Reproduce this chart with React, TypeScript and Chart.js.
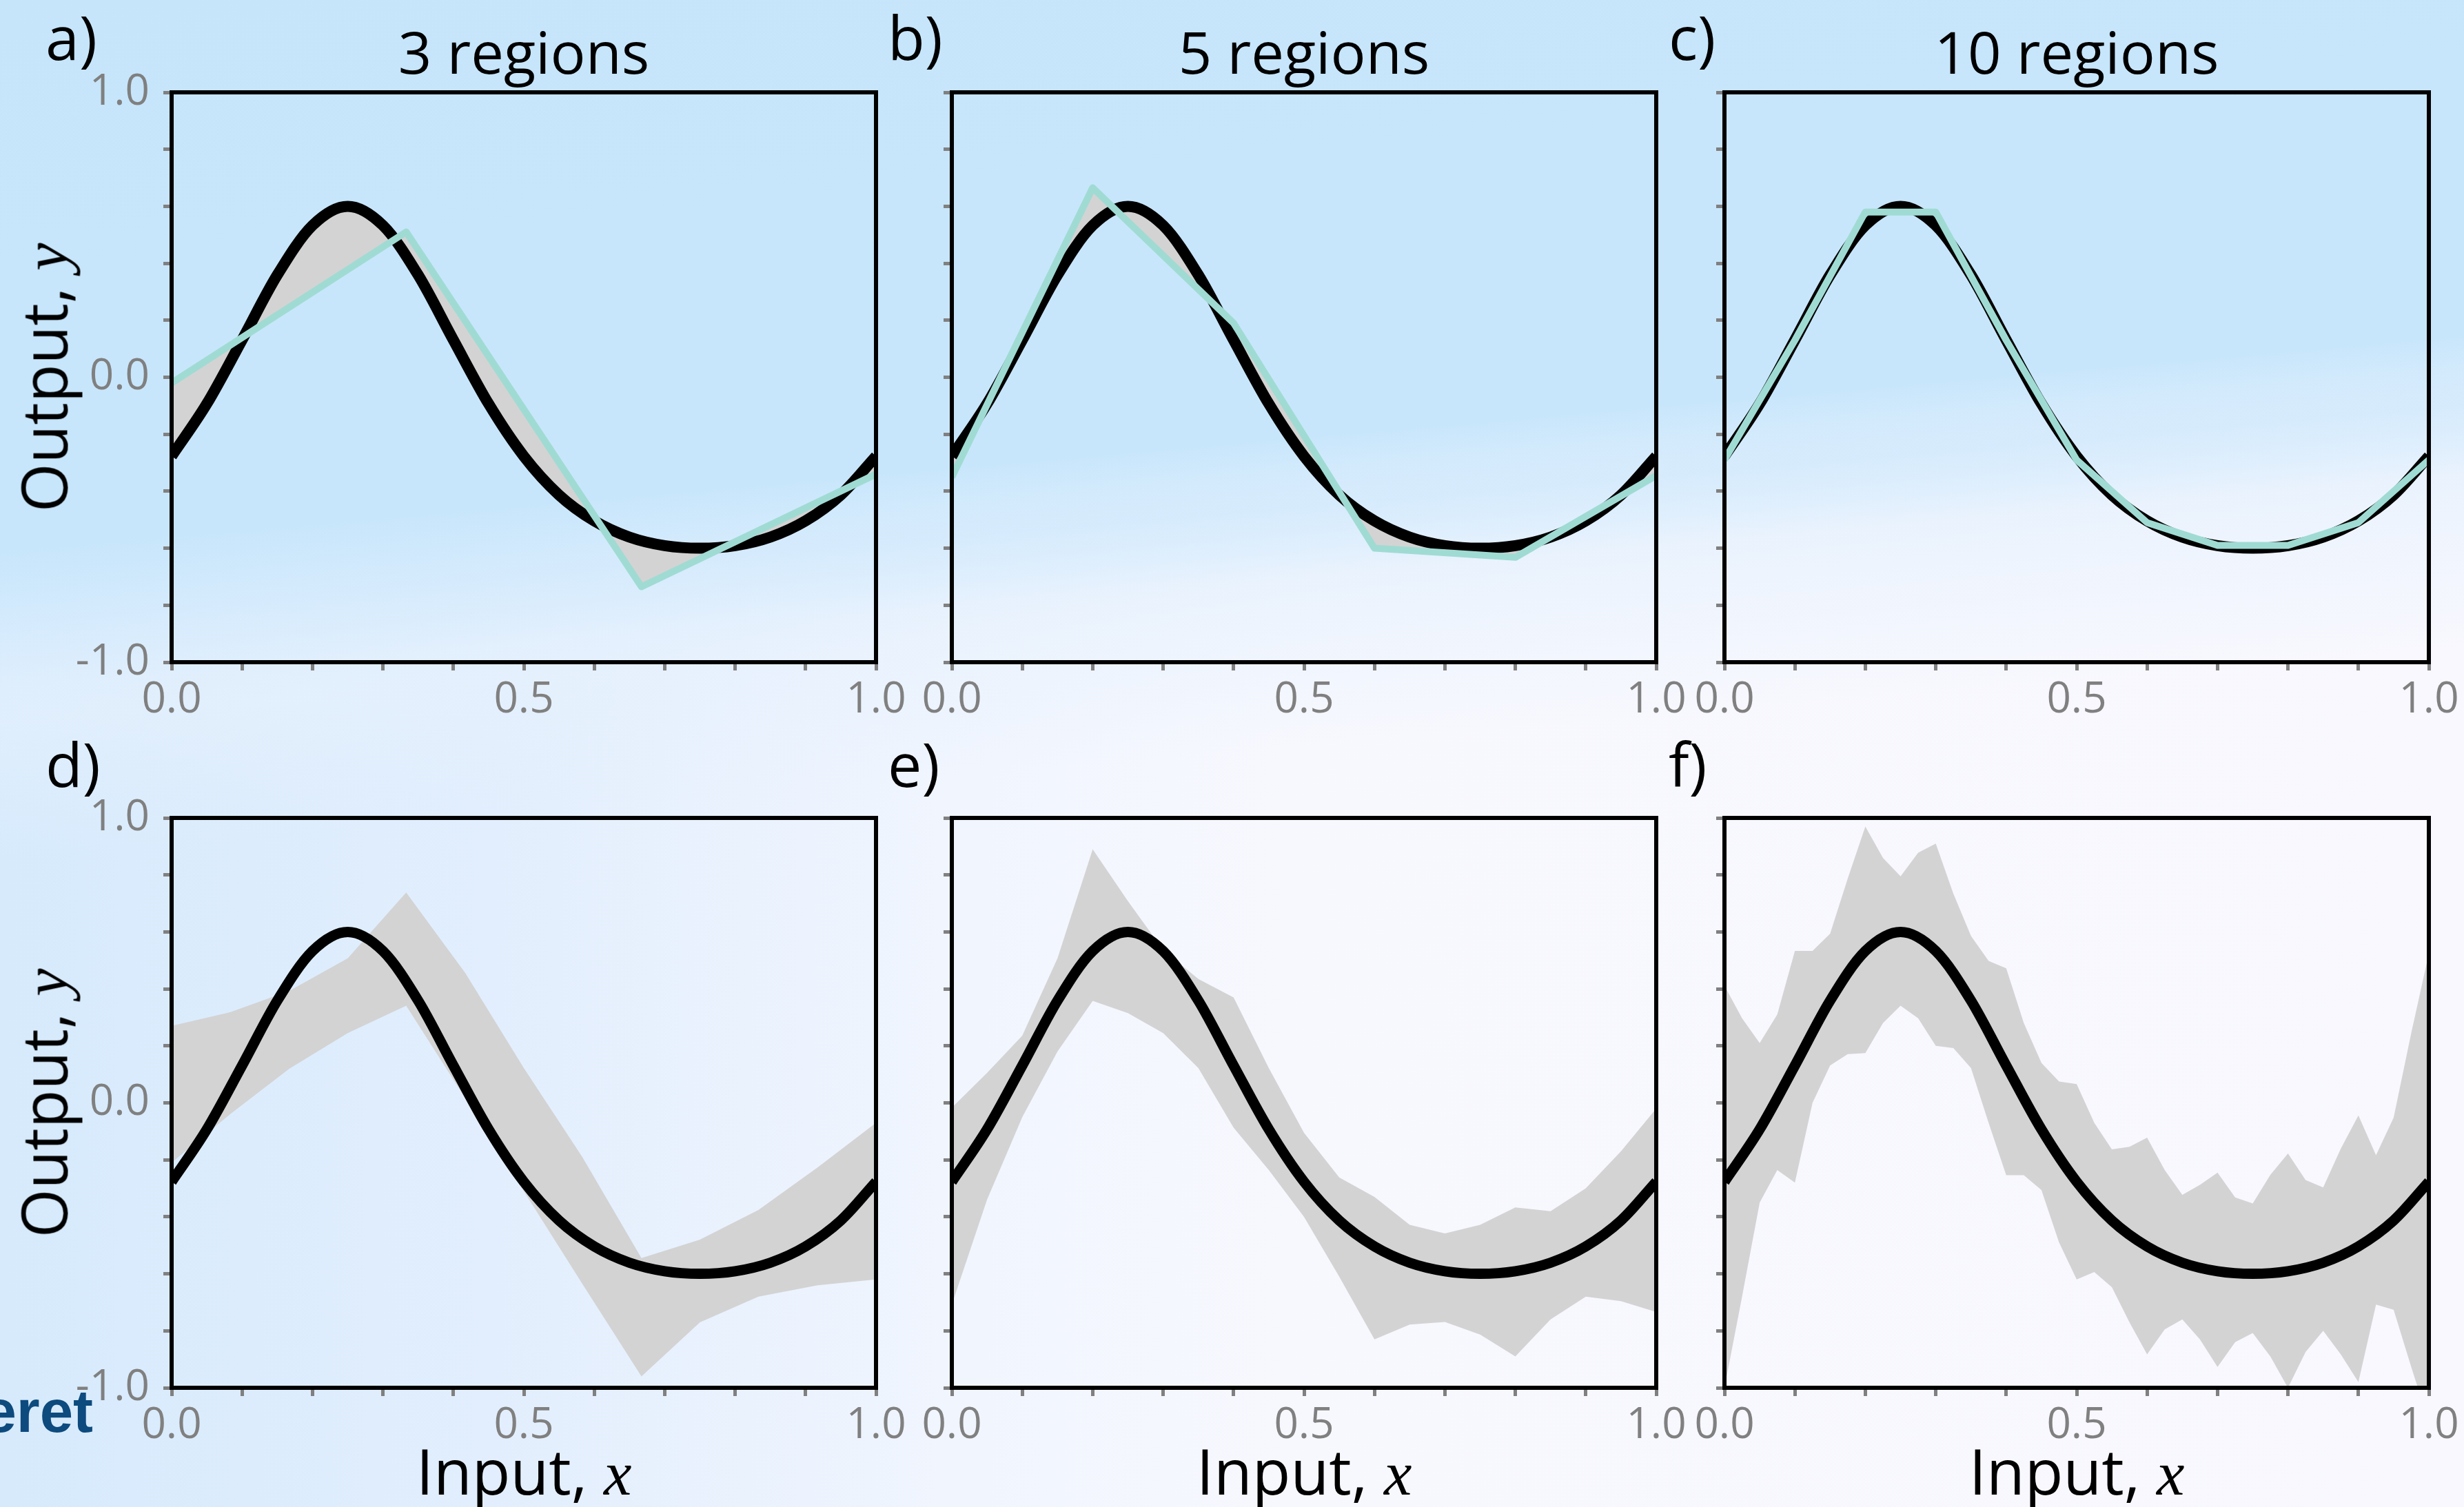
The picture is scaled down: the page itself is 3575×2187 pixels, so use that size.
import React, { useEffect, useRef } from 'react';
import { Chart, registerables } from 'chart.js';

Chart.register(...registerables);

// ---- data -------------------------------------------------------------
// true function sampled along the input axis
const trueX = [0, 0.05, 0.1, 0.15, 0.2, 0.25, 0.3, 0.35, 0.4, 0.45, 0.5, 0.55, 0.6, 0.65, 0.7, 0.75, 0.8, 0.85, 0.9, 0.95, 1.0];
const trueY = [-0.277, -0.093, 0.131, 0.359, 0.533, 0.6, 0.533, 0.359, 0.131, -0.093, -0.277, -0.413, -0.504, -0.561, -0.591, -0.6, -0.591, -0.561, -0.504, -0.413, -0.277];

// piecewise-linear fits (joints)
const fit3X = [0, 0.333, 0.667, 1.0];
const fit3Y = [-0.02, 0.51, -0.735, -0.34];

const fit5X = [0, 0.2, 0.4, 0.6, 0.8, 1.0];
const fit5Y = [-0.35, 0.665, 0.19, -0.6, -0.632, -0.345];

const fit10X = [0, 0.1, 0.2, 0.3, 0.4, 0.5, 0.6, 0.7, 0.8, 0.9, 1.0];
const fit10Y = [-0.29, 0.13, 0.58, 0.58, 0.13, -0.29, -0.51, -0.59, -0.59, -0.51, -0.29];

// spread of fitted models, 3 regions
const band3X = [0, 0.083, 0.167, 0.25, 0.333, 0.417, 0.5, 0.583, 0.667, 0.75, 0.833, 0.917, 1.0];
const band3Upper = [0.27, 0.318, 0.393, 0.507, 0.738, 0.455, 0.122, -0.19, -0.545, -0.48, -0.376, -0.227, -0.07];
const band3Lower = [-0.21, -0.04, 0.12, 0.245, 0.341, 0.016, -0.31, -0.635, -0.96, -0.77, -0.68, -0.64, -0.62];

// spread of fitted models, 5 regions
const band5X = [0, 0.05, 0.1, 0.15, 0.2, 0.25, 0.3, 0.35, 0.4, 0.45, 0.5, 0.55, 0.6, 0.65, 0.7, 0.75, 0.8, 0.85, 0.9, 0.95, 1.0];
const band5Upper = [-0.017, 0.105, 0.236, 0.507, 0.89, 0.708, 0.537, 0.435, 0.37, 0.122, -0.105, -0.262, -0.33, -0.428, -0.458, -0.428, -0.367, -0.38, -0.3, -0.17, -0.02];
const band5Lower = [-0.708, -0.34, -0.05, 0.18, 0.358, 0.315, 0.245, 0.122, -0.087, -0.236, -0.4, -0.61, -0.83, -0.778, -0.769, -0.813, -0.89, -0.76, -0.68, -0.696, -0.734];

// spread of fitted models, 10 regions
const band10X = [0, 0.025, 0.05, 0.075, 0.1, 0.125, 0.15, 0.175, 0.2, 0.225, 0.25, 0.275, 0.3, 0.325, 0.35, 0.375, 0.4, 0.425, 0.45, 0.475, 0.5, 0.525, 0.55, 0.575, 0.6, 0.625, 0.65, 0.675, 0.7, 0.725, 0.75, 0.775, 0.8, 0.825, 0.85, 0.875, 0.9, 0.925, 0.95, 0.975, 1.0];
const band10Upper = [0.411, 0.297, 0.21, 0.31, 0.533, 0.533, 0.594, 0.787, 0.97, 0.86, 0.795, 0.878, 0.91, 0.734, 0.586, 0.498, 0.472, 0.28, 0.14, 0.075, 0.066, -0.07, -0.163, -0.154, -0.122, -0.236, -0.323, -0.288, -0.245, -0.332, -0.353, -0.253, -0.178, -0.271, -0.297, -0.161, -0.044, -0.184, -0.052, 0.245, 0.524];
const band10Lower = [-1.0, -0.68, -0.35, -0.236, -0.28, 0.0, 0.131, 0.171, 0.175, 0.28, 0.341, 0.297, 0.2, 0.192, 0.122, -0.07, -0.254, -0.254, -0.306, -0.49, -0.62, -0.594, -0.647, -0.77, -0.883, -0.795, -0.76, -0.83, -0.927, -0.84, -0.808, -0.89, -1.0, -0.874, -0.8, -0.883, -0.98, -0.708, -0.726, -0.927, -1.12];

const panelLetters = ['a)', 'b)', 'c)', 'd)', 'e)', 'f)'];
const panelTitles = ['3 regions', '5 regions', '10 regions'];

// ---- styling ----------------------------------------------------------
const SANS = '"Open Sans", "DejaVu Sans", sans-serif';
const MATH = '"Liberation Serif", "DejaVu Serif", serif';
const GRAY = '#808080';
const CYAN = '#a0dbd3';
const FILL = '#d3d3d3';

const PLOT_W = 1022;
const PLOT_H = 827;
const COL_LEFT = [249, 1381, 2502];
const ROW_TOP = [134, 1187];
const PAD_L = 150;
const PAD_T = 80;
const PAD_R = 60;
const PAD_B = 100;
const CW = PLOT_W + PAD_L + PAD_R;
const CH = PLOT_H + PAD_T + PAD_B;

const pts = (xs: number[], ys: number[]) => xs.map((x, i) => ({ x, y: ys[i] }));

const framePlugin = {
  id: 'frame',
  afterDraw(chart: any) {
    const { ctx, chartArea: a } = chart;
    ctx.save();
    ctx.strokeStyle = '#000';
    ctx.lineWidth = 6;
    ctx.strokeRect(a.left, a.top, a.right - a.left, a.bottom - a.top);
    ctx.restore();
  },
};

const tickFont = { family: SANS, size: 62 };

function makeConfig(datasets: any[], showYLabels: boolean): any {
  return {
    type: 'line',
    data: { datasets },
    options: {
      animation: false,
      responsive: false,
      devicePixelRatio: 1,
      layout: { padding: { left: 0, top: PAD_T, right: PAD_R, bottom: 0 } },
      plugins: {
        legend: { display: false },
        tooltip: { enabled: false },
        filler: { drawTime: 'beforeDatasetsDraw' },
      },
      elements: { point: { radius: 0 } },
      scales: {
        x: {
          type: 'linear',
          min: 0,
          max: 1,
          afterFit: (s: any) => {
            s.height = PAD_B;
          },
          ticks: {
            stepSize: 0.1,
            autoSkip: false,
            maxRotation: 0,
            color: GRAY,
            font: tickFont,
            padding: 6,
            callback: (v: any) => {
              const n = Number(v);
              return Math.abs(n * 2 - Math.round(n * 2)) < 1e-6 ? n.toFixed(1) : '';
            },
          },
          grid: { drawOnChartArea: false, drawTicks: true, tickLength: 12, tickWidth: 5, tickColor: GRAY },
          border: { display: false },
        },
        y: {
          type: 'linear',
          min: -1,
          max: 1,
          afterFit: (s: any) => {
            s.width = PAD_L;
          },
          ticks: {
            stepSize: 0.2,
            autoSkip: false,
            color: GRAY,
            font: tickFont,
            padding: 20,
            callback: (v: any) => {
              const n = Number(v);
              if (!showYLabels) return '';
              return Math.abs(n - Math.round(n)) < 1e-6 ? n.toFixed(1) : '';
            },
          },
          grid: { drawOnChartArea: false, drawTicks: true, tickLength: 12, tickWidth: 5, tickColor: GRAY },
          border: { display: false },
        },
      },
    },
    plugins: [framePlugin],
  };
}

const trueLine = (width: number) => ({
  data: pts(trueX, trueY),
  borderColor: '#000',
  borderWidth: width,
  cubicInterpolationMode: 'monotone',
  fill: false,
  pointRadius: 0,
});

function fitDatasets(xs: number[], ys: number[]) {
  return [
    {
      data: pts(xs, ys),
      borderColor: CYAN,
      borderWidth: 10,
      borderJoinStyle: 'round',
      tension: 0,
      fill: 1,
      backgroundColor: FILL,
      pointRadius: 0,
    },
    trueLine(16),
  ];
}

function bandDatasets(xs: number[], upper: number[], lower: number[]) {
  return [
    trueLine(15),
    {
      data: pts(xs, upper),
      borderColor: 'rgba(0,0,0,0)',
      borderWidth: 1,
      tension: 0,
      fill: '+1',
      backgroundColor: FILL,
      pointRadius: 0,
    },
    {
      data: pts(xs, lower),
      borderColor: 'rgba(0,0,0,0)',
      borderWidth: 1,
      tension: 0,
      fill: false,
      pointRadius: 0,
    },
  ];
}

function PanelChart({ left, top, datasets, showYLabels }: { left: number; top: number; datasets: any[]; showYLabels: boolean }) {
  const ref = useRef<HTMLCanvasElement>(null);
  useEffect(() => {
    const chart = new Chart(ref.current as HTMLCanvasElement, makeConfig(datasets, showYLabels));
    return () => chart.destroy();
  }, []);
  return (
    <canvas
      ref={ref}
      width={CW}
      height={CH}
      style={{ position: 'absolute', left: left - PAD_L, top: top - PAD_T, width: CW, height: CH }}
    />
  );
}

const textBase: React.CSSProperties = {
  position: 'absolute',
  fontFamily: SANS,
  lineHeight: 1,
  whiteSpace: 'nowrap',
  color: '#000',
};

export default function App() {
  const panels = [
    fitDatasets(fit3X, fit3Y),
    fitDatasets(fit5X, fit5Y),
    fitDatasets(fit10X, fit10Y),
    bandDatasets(band3X, band3Upper, band3Lower),
    bandDatasets(band5X, band5Upper, band5Lower),
    bandDatasets(band10X, band10Upper, band10Lower),
  ];
  const letterLeft = [66, 1288, 2421];
  const letterTop = [9, 1064];

  return (
    <div
      style={{
        position: 'fixed',
        left: 0,
        top: 0,
        width: 3575,
        height: 2187,
        overflow: 'hidden',
        background: [
          'linear-gradient(175deg, rgba(198,229,251,1) 0%, rgba(200,230,251,1) 32%, rgba(205,232,252,0.7) 35%, rgba(210,234,252,0) 40%)',
          'linear-gradient(175deg, rgba(222,238,253,0) 33%, rgba(222,238,253,0.9) 36%, rgba(230,241,253,0.6) 42%, rgba(240,244,254,0) 50%)',
          'linear-gradient(90deg, #d6eafc 0%, #e2eefd 20%, #f0f5fe 38%, #f7f8fe 52%, #f8f8fe 100%)',
        ].join(', '),
      }}
    >
      {panels.map((ds, i) => (
        <PanelChart
          key={i}
          left={COL_LEFT[i % 3]}
          top={ROW_TOP[Math.floor(i / 3)]}
          datasets={ds}
          showYLabels={i % 3 === 0}
        />
      ))}

      {panelLetters.map((t, i) => (
        <div key={t} style={{ ...textBase, fontSize: 88, left: letterLeft[i % 3], top: letterTop[Math.floor(i / 3)] }}>
          {t}
        </div>
      ))}

      {panelTitles.map((t, i) => (
        <div
          key={t}
          style={{ ...textBase, fontSize: 85, left: COL_LEFT[i] + PLOT_W / 2, top: 32, transform: 'translateX(-50%)' }}
        >
          {t}
        </div>
      ))}

      {[0, 1].map((r) => (
        <div
          key={'yl' + r}
          style={{
            ...textBase,
            fontSize: 91,
            left: 65,
            top: ROW_TOP[r] + PLOT_H / 2,
            transform: 'translate(-50%, -50%) rotate(-90deg)',
          }}
        >
          Output, <span style={{ fontFamily: MATH, fontStyle: 'italic' }}>y</span>
        </div>
      ))}

      {[0, 1, 2].map((c) => (
        <div
          key={'xl' + c}
          style={{ ...textBase, fontSize: 91, left: COL_LEFT[c] + PLOT_W / 2, top: 2089, transform: 'translateX(-50%)' }}
        >
          Input, <span style={{ fontFamily: MATH, fontStyle: 'italic' }}>x</span>
        </div>
      ))}

      <div
        style={{
          ...textBase,
          fontFamily: '"Liberation Sans", Arial, sans-serif',
          fontWeight: 700,
          fontSize: 87,
          color: '#0d4a7e',
          right: 3575 - 135,
          top: 2004,
        }}
      >
        eret
      </div>
    </div>
  );
}
